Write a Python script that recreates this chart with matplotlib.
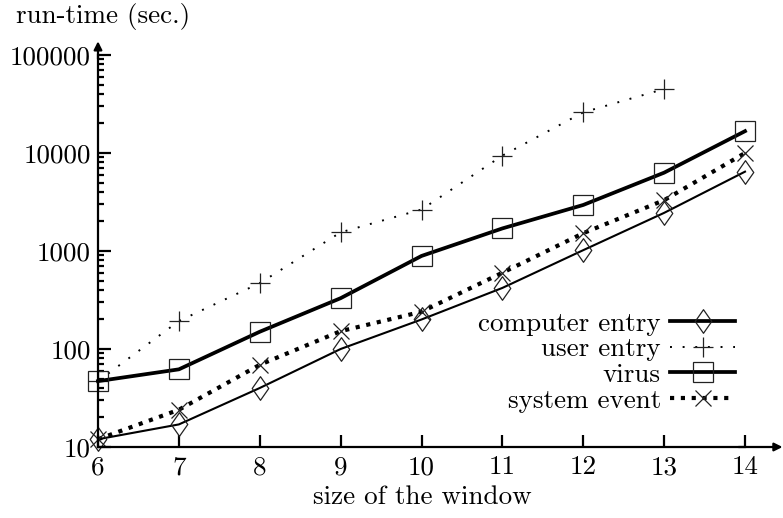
import matplotlib
matplotlib.use("Agg")
import matplotlib.pyplot as plt
from matplotlib.ticker import FixedLocator, FixedFormatter, LogLocator, NullFormatter
from matplotlib.path import Path

plt.rcParams['font.family'] = ['cmr10', 'DejaVu Serif']
plt.rcParams['axes.formatter.use_mathtext'] = True
plt.rcParams['mathtext.fontset'] = 'cm'

# ---- data ----
window = [6, 7, 8, 9, 10, 11, 12, 13, 14]
computer_entry = [12, 17, 40, 100, 200, 420, 1020, 2450, 6450]
user_window = [6, 7, 8, 9, 10, 11, 12, 13]
user_entry = [47, 193, 470, 1550, 2650, 9400, 26000, 45000]
virus = [47, 62, 150, 330, 890, 1700, 2950, 6300, 16700]
system_event = [12, 24, 69, 152, 240, 600, 1520, 3300, 10000]

x_ticks = [6, 7, 8, 9, 10, 11, 12, 13, 14]
y_ticks = [10, 100, 1000, 10000, 100000]
y_tick_labels = ["10", "100", "1000", "10000", "100000"]

FS = 19.5

fig = plt.figure(figsize=(7.83, 5.18), dpi=100)
W, H = 783, 518
ax = fig.add_axes([98 / W, 1 - 447 / H, (745 - 98) / W, (447 - 55) / H])
ax.set_yscale('log')
ax.set_xlim(6, 14)
ax.set_ylim(10, 100000)

diamond = Path([(0, 1), (0.7, 0), (0, -1), (-0.7, 0), (0, 1)],
               [Path.MOVETO, Path.LINETO, Path.LINETO, Path.LINETO, Path.CLOSEPOLY])
mec = '#222222'
mew = 0.9

ax.plot(window, computer_entry, color='k', lw=1.5, marker=diamond, ms=17,
        mfc='none', mec=mec, mew=mew, label='computer entry', clip_on=False)
ax.plot(user_window, user_entry, color='k', lw=1.4, linestyle=(0, (1, 5.5)),
        dash_capstyle='butt', marker='+', ms=14, mec=mec, mew=mew,
        label='user entry', clip_on=False)
ax.plot(window, virus, color='k', lw=2.7, marker='s', ms=14,
        mfc='none', mec=mec, mew=mew, label='virus', clip_on=False)
ax.plot(window, system_event, color='k', lw=3.0, linestyle=(0, (1, 1.6)),
        dash_capstyle='butt', marker='x', ms=11.5, mec=mec, mew=mew,
        label='system event', clip_on=False)

# axes styling
for s in ['top', 'right']:
    ax.spines[s].set_visible(False)
for s in ['left', 'bottom']:
    ax.spines[s].set_linewidth(1.6)

ax.xaxis.set_major_locator(FixedLocator(x_ticks))
ax.set_xticklabels([str(v) for v in x_ticks])
ax.yaxis.set_major_locator(FixedLocator(y_ticks))
ax.yaxis.set_major_formatter(FixedFormatter(y_tick_labels))
ax.yaxis.set_minor_locator(LogLocator(base=10, subs=range(2, 10)))
ax.yaxis.set_minor_formatter(NullFormatter())
ax.tick_params(axis='both', which='major', direction='in', length=9, width=1.6,
               labelsize=FS, pad=5)
ax.tick_params(axis='y', which='minor', direction='in', length=4.5, width=1.6)
ax.tick_params(axis='x', which='major', pad=6)

# axis arrows
ax.annotate('', xy=(1.058, 0), xytext=(0.99, 0), xycoords='axes fraction',
            arrowprops=dict(arrowstyle='-|>', lw=1.6, color='k', mutation_scale=12,
                            shrinkA=0, shrinkB=0), annotation_clip=False)
ax.annotate('', xy=(0, 1.035), xytext=(0, 0.99), xycoords='axes fraction',
            arrowprops=dict(arrowstyle='-|>', lw=1.6, color='k', mutation_scale=12,
                            shrinkA=0, shrinkB=0), annotation_clip=False)

fig.text(103 / W, 1 - 17 / H, 'run-time (sec.)', fontsize=FS, ha='center', va='center')
fig.text(422 / W, 1 - 497 / H, 'size of the window', fontsize=FS, ha='center', va='center')

leg = ax.legend(loc='lower right', bbox_to_anchor=(0.985, 0.088), frameon=False,
                markerfirst=False, fontsize=FS, handlelength=2.4, handletextpad=0.35,
                labelspacing=0.06, borderaxespad=0, borderpad=0)
leg.get_lines()[0].set_linewidth(2.7)

fig.savefig('out.png', dpi=100)
